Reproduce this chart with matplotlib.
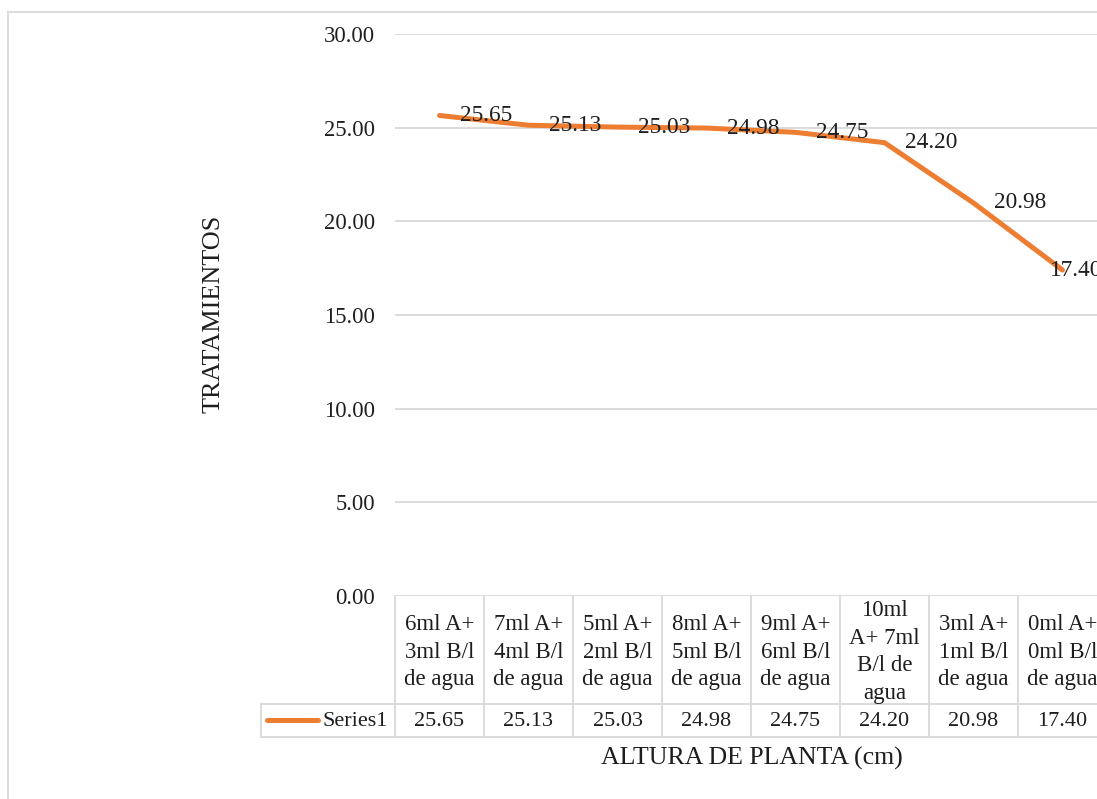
import matplotlib
matplotlib.use("Agg")
import matplotlib.pyplot as plt
from matplotlib.lines import Line2D
from matplotlib.transforms import blended_transform_factory

tratamientos = ["6ml A+\n3ml B/l\nde agua", "7ml A+\n4ml B/l\nde agua",
                "5ml A+\n2ml B/l\nde agua", "8ml A+\n5ml B/l\nde agua",
                "9ml A+\n6ml B/l\nde agua", "10ml\nA+ 7ml\nB/l de\nagua",
                "3ml A+\n1ml B/l\nde agua", "0ml A+\n0ml B/l\nde agua"]
altura = [25.65, 25.13, 25.03, 24.98, 24.75, 24.20, 20.98, 17.40]
serie = "Series1"
y_ticks = [0, 5, 10, 15, 20, 25, 30]

W, H = 1097, 799
ORANGE = "#ED7D31"
GRID = "#D9D9D9"
TXT = "#1E1E1E"
FS = 16

plt.rcParams["font.family"] = ["Liberation Serif", "DejaVu Serif"]


def fx(px):
    return px / W


def fy(py):
    return 1 - py / H


def main():
    fig = plt.figure(figsize=(W / 100, H / 100), dpi=100)

    # chart area border (right/bottom fall outside the picture)
    fig.add_artist(Line2D([fx(8), 1.1], [fy(12), fy(12)], color=GRID, lw=1.3))
    fig.add_artist(Line2D([fx(8), fx(8)], [fy(12), -0.1], color=GRID, lw=1.3))

    ax = fig.add_axes([fx(395), fy(596), fx(1107) - fx(395), fy(34) - fy(596)])
    x = list(range(len(altura)))
    ax.plot(x, altura, color=ORANGE, lw=3.6, solid_capstyle="round",
            solid_joinstyle="round", clip_on=False, zorder=3)
    ax.set_xlim(-0.5, len(altura) - 0.5)
    ax.set_ylim(0, 30)
    ax.set_yticks(y_ticks)
    ax.set_yticklabels([f"{v:.2f}" for v in y_ticks])
    ax.set_xticks([])
    ax.tick_params(axis="y", length=0, pad=14.5, labelsize=16.3, labelcolor=TXT)
    ax.grid(axis="y", color=GRID, lw=1.3)
    ax.set_axisbelow(True)
    for s in ax.spines.values():
        s.set_visible(False)

    # data labels
    for i, v in enumerate(altura):
        dx = 15 if i < len(altura) - 1 else -9
        ax.annotate(f"{v:.2f}", (i, v), xytext=(dx, 0), textcoords="offset points",
                    ha="left", va="center", fontsize=16.8, color=TXT, zorder=4,
                    annotation_clip=False)

    # data table under the axis
    tr = blended_transform_factory(ax.transData, fig.transFigure)
    n = len(altura)
    for k in range(n + 1):
        ax.add_line(Line2D([k - 0.5, k - 0.5], [fy(596), fy(737)], transform=tr,
                           color=GRID, lw=1.3, clip_on=False))
    for py in (704, 737):
        ax.add_line(Line2D([-0.5, n - 0.5], [fy(py), fy(py)], transform=tr,
                           color=GRID, lw=1.3, clip_on=False))
        fig.add_artist(Line2D([fx(261), fx(395)], [fy(py), fy(py)], color=GRID, lw=1.3))
    fig.add_artist(Line2D([fx(261), fx(261)], [fy(704), fy(737)], color=GRID, lw=1.3))

    for i, (lab, v) in enumerate(zip(tratamientos, altura)):
        ax.text(i, fy(652), lab, transform=tr, ha="center", va="center",
                fontsize=16.5, color=TXT, linespacing=1.42, clip_on=False)
        ax.text(i, fy(721), f"{v:.2f}", transform=tr, ha="center", va="center",
                fontsize=FS, color=TXT, clip_on=False)

    # legend key inside the table
    fig.add_artist(Line2D([fx(267), fx(318)], [fy(720), fy(720)], color=ORANGE,
                          lw=3.6, solid_capstyle="round"))
    fig.text(fx(388), fy(721), serie, ha="right", va="center", fontsize=FS, color=TXT)

    fig.text(fx(213), fy(314), "TRATAMIENTOS", rotation=90, ha="center", va="center",
             fontsize=18.8, color=TXT)
    fig.text(fx(752), fy(758), "ALTURA DE PLANTA (cm)", ha="center", va="center",
             fontsize=18.6, color=TXT)

    fig.savefig("out.png", dpi=100)


if __name__ == "__main__":
    main()
